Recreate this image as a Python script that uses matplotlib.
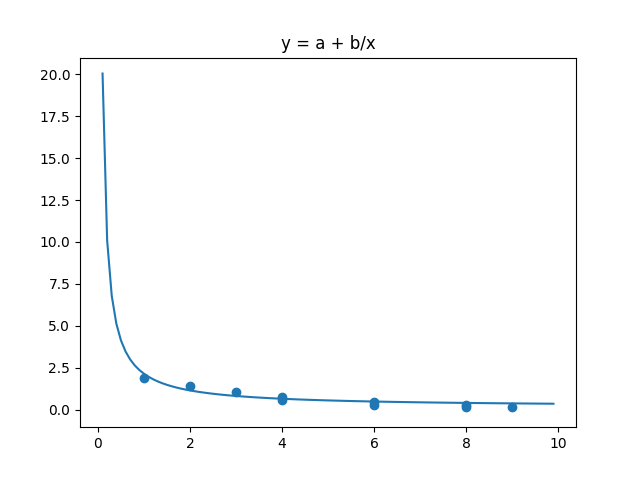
import numpy as np
import matplotlib
matplotlib.use("Agg")
import matplotlib.pyplot as plt

# observed data points
x_data = [1, 2, 3, 4, 4, 6, 6, 8, 8, 9]
y_data = [1.88, 1.42, 1.06, 0.78, 0.55, 0.48, 0.30, 0.30, 0.15, 0.13]

# fitted model parameters for y = a + b/x
a = 0.15
b = 1.99
x_fit = np.arange(0.1, 10.0, 0.1)

fig, ax = plt.subplots(figsize=(6.4, 4.8), dpi=100)
ax.plot(x_fit, a + b / x_fit)
ax.scatter(x_data, y_data)
ax.set_ylim(-1.05, 21.0)
ax.set_title("y = a + b/x")
fig.savefig("out.png")
